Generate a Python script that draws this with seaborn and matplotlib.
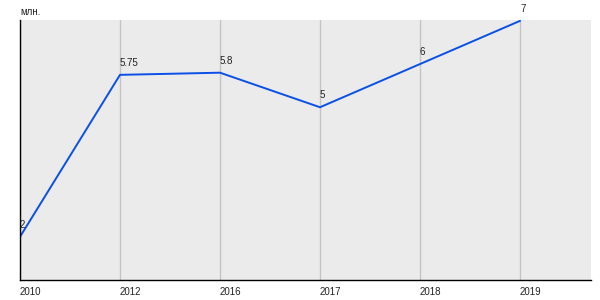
import matplotlib
matplotlib.use("Agg")
import matplotlib.pyplot as plt
import seaborn as sns
import pandas as pd

years = ["2010", "2012", "2016", "2017", "2018", "2019"]
values = [2, 5.75, 5.8, 5, 6, 7]
labels = ["2", "5.75", "5.8", "5", "6", "7"]
unit = "млн."

sns.set_theme(style="white")
plt.rcParams['font.family'] = ['Liberation Sans', 'DejaVu Sans']

df = pd.DataFrame({"year": years, "value": values})
df["pos"] = range(len(years))

fig = plt.figure(figsize=(6, 3), dpi=100)
ax = fig.add_axes([20/600, 20/300, 571/600, 260/300])
ax.set_facecolor("#ebebeb")

sns.lineplot(data=df, x="pos", y="value", ax=ax, color="#0a50e6", linewidth=1.4)

for p, v, t in zip(df["pos"], df["value"], labels):
    ax.annotate(t, (p, v), xytext=(0, 5), textcoords="offset points",
                ha="left", va="bottom", fontsize=7, color="#222222")

ax.set_xlim(0, 5.71)
ax.set_ylim(1, 7.02)
ax.set_xticks(df["pos"])
ax.set_xticklabels(years, fontsize=7, color="#222222", ha="left")
ax.set_yticks([])
ax.tick_params(axis="x", length=0, pad=5)
ax.xaxis.grid(True, color="#c4c4c4", linewidth=1)
ax.yaxis.grid(False)
ax.set_xlabel("")
ax.set_ylabel("")
for s in ["top", "right"]:
    ax.spines[s].set_visible(False)
ax.spines["left"].set_color("black")
ax.spines["bottom"].set_color("black")
ax.spines["left"].set_linewidth(1.0)
ax.spines["bottom"].set_linewidth(1.0)

fig.text(20/600, 1 - 12/300, unit, fontsize=7, color="#222222", ha="left", va="center")

fig.savefig("out.png", dpi=100)
